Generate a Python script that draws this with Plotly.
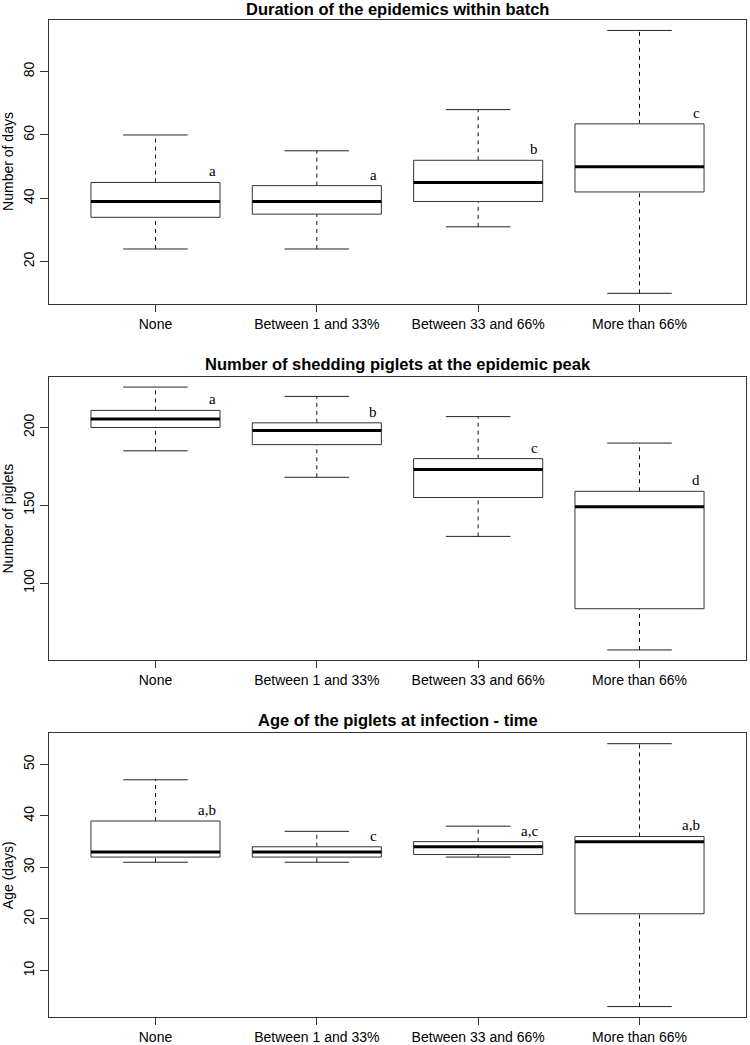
import plotly.graph_objects as go

# ---------------- data ----------------
categories = ["None", "Between 1 and 33%", "Between 33 and 66%", "More than 66%"]

dur_low = [24, 24, 31, 10]
dur_q1 = [34, 35, 39, 42]
dur_med = [39, 39, 45, 50]
dur_q3 = [45, 44, 52, 63.5]
dur_high = [60, 55, 68, 93]
dur_letters = ["a", "a", "b", "c"]

shed_low = [185, 168, 130, 57]
shed_q1 = [200, 189, 155, 83.5]
shed_med = [205.5, 198, 173, 149]
shed_q3 = [211, 203, 180, 159]
shed_high = [226, 220, 207, 190]
shed_letters = ["a", "b", "c", "d"]

age_low = [31, 31, 32, 3]
age_q1 = [32, 32, 32.5, 21]
age_med = [33, 33, 34, 35]
age_q3 = [39, 34, 35, 36]
age_high = [47, 37, 38, 54]
age_letters = ["a,b", "c", "a,c", "a,b"]

titles = ["Duration of the epidemics within batch",
          "Number of shedding piglets at the epidemic peak",
          "Age of the piglets at infection - time"]
ylabels = ["Number of days", "Number of piglets", "Age (days)"]
ytick_steps = [20, 50, 10]

panels = [
    (dur_low, dur_q1, dur_med, dur_q3, dur_high, dur_letters),
    (shed_low, shed_q1, shed_med, shed_q3, shed_high, shed_letters),
    (age_low, age_q1, age_med, age_q3, age_high, age_letters),
]

# ---------------- layout geometry (pixels) ----------------
W, H = 750, 1045
x_left, x_right = 49, 746
plot_tops = [20, 378, 736]
plot_h = 285
title_y = [9, 365, 723]

SANS = "Liberation Sans, Arial, Helvetica, sans-serif"
SERIF = "Liberation Serif, Times New Roman, serif"

def py(p):
    return 1 - p / H

fig = go.Figure()
annotations = []
half_box = 0.4
half_staple = 0.2
xs = [i + 1 for i in range(len(categories))]

for k, (low, q1, med, q3, high, letters) in enumerate(panels):
    xa = "x" if k == 0 else f"x{k+1}"
    ya = "y" if k == 0 else f"y{k+1}"

    # whiskers (dashed)
    wx, wy = [], []
    for x, l, a, b, h in zip(xs, low, q1, q3, high):
        wx += [x, x, None, x, x, None]
        wy += [b, h, None, l, a, None]
    fig.add_trace(go.Scatter(x=wx, y=wy, mode="lines", xaxis=xa, yaxis=ya,
                             line=dict(color="#111111", width=1, dash="4px,4px"),
                             hoverinfo="skip", showlegend=False))
    # staples
    sx, sy = [], []
    for x, l, h in zip(xs, low, high):
        sx += [x - half_staple, x + half_staple, None, x - half_staple, x + half_staple, None]
        sy += [h, h, None, l, l, None]
    fig.add_trace(go.Scatter(x=sx, y=sy, mode="lines", xaxis=xa, yaxis=ya,
                             line=dict(color="#222222", width=1),
                             hoverinfo="skip", showlegend=False))
    # boxes
    for x, a, b in zip(xs, q1, q3):
        fig.add_trace(go.Scatter(
            x=[x - half_box, x + half_box, x + half_box, x - half_box, x - half_box],
            y=[a, a, b, b, a], mode="lines", fill="toself", fillcolor="white",
            xaxis=xa, yaxis=ya, line=dict(color="#333333", width=1),
            hoverinfo="skip", showlegend=False))
    # medians
    mx, my = [], []
    for x, m in zip(xs, med):
        mx += [x - half_box, x + half_box, None]
        my += [m, m, None]
    fig.add_trace(go.Scatter(x=mx, y=my, mode="lines", xaxis=xa, yaxis=ya,
                             line=dict(color="black", width=3),
                             hoverinfo="skip", showlegend=False))
    # letters
    for x, b, t in zip(xs, q3, letters):
        annotations.append(dict(x=x + 0.385, y=b, xref=xa, yref=ya, text=t,
                                showarrow=False, xanchor="right", yanchor="middle",
                                yshift=11, font=dict(family=SERIF, size=15, color="black")))

    lo, hi = min(low), max(high)
    pad = (hi - lo) * 0.04
    top = plot_tops[k]
    dom_y = [py(top + plot_h), py(top)]

    xaxis = dict(domain=[x_left / W, x_right / W], range=[0.34, 4.66],
                 tickmode="array", tickvals=xs, ticktext=categories,
                 ticks="outside", ticklen=7, tickcolor="#333333",
                 showline=True, linecolor="#333333", linewidth=1, mirror=True,
                 showgrid=False, zeroline=False, anchor=ya,
                 tickfont=dict(family=SANS, size=14, color="black"))
    yaxis = dict(domain=dom_y, range=[lo - pad, hi + pad],
                 tick0=0, dtick=ytick_steps[k], tickangle=-90,
                 ticks="outside", ticklen=8, tickcolor="#333333",
                 showline=True, linecolor="#333333", linewidth=1, mirror=True,
                 showgrid=False, zeroline=False, anchor=xa,
                 tickfont=dict(family=SANS, size=14, color="black"))
    fig.layout[f"xaxis{'' if k == 0 else k+1}"] = xaxis
    fig.layout[f"yaxis{'' if k == 0 else k+1}"] = yaxis

    annotations.append(dict(x=(x_left + x_right) / 2 / W, y=py(title_y[k]),
                            xref="paper", yref="paper", text=f"<b>{titles[k]}</b>",
                            showarrow=False, xanchor="center", yanchor="middle",
                            font=dict(family=SANS, size=16.5, color="black")))
    annotations.append(dict(x=8 / W, y=py(top + plot_h / 2), xref="paper", yref="paper",
                            text=ylabels[k], textangle=-90, showarrow=False,
                            xanchor="center", yanchor="middle",
                            font=dict(family=SANS, size=14, color="black")))

fig.update_layout(width=W, height=H, margin=dict(l=0, r=0, t=0, b=0),
                  paper_bgcolor="white", plot_bgcolor="white",
                  showlegend=False, annotations=annotations, hovermode=False)

fig.write_html("out.html", config={"displayModeBar": False, "staticPlot": True},
               post_script="document.body.style.margin='0';document.body.style.overflow='hidden';")
